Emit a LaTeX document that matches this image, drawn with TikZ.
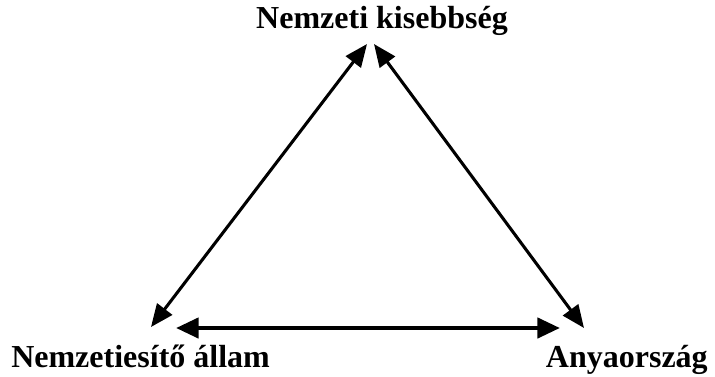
\documentclass[tikz,border=0pt]{standalone}
\usepackage{fontspec}
\setmainfont{Liberation Serif}
\definecolor{Linecol}{HTML}{000000}
\definecolor{Textcol}{HTML}{000000}
\usetikzlibrary{arrows.meta, positioning}
\tikzset{
    >={Triangle[length=17pt, width=14pt]},
    font=\bfseries\fontsize{24}{29}\selectfont
}

\begin{document}
\begin{tikzpicture}[x=0.75pt, y=-0.75pt]
    \useasboundingbox (0,0) rectangle (715,376);

    % Labels
    \node[Textcol, anchor=base] (kis) at (382, 28) {Nemzeti kisebbség};
    \node[Textcol, anchor=base west, inner sep=0pt] (allam) at (11, 367) {Nemzetiesítő állam};
    \node[Textcol, anchor=base east, inner sep=0pt] (anya) at (708, 367) {Anyaország};

    % Arrow ends
    \coordinate (kisL) at (367, 44);
    \coordinate (kisR) at (374, 44);
    \coordinate (allamT) at (151, 327);
    \coordinate (allamR) at (176, 328);
    \coordinate (anyaT) at (584, 328);
    \coordinate (anyaL) at (560, 328);

    % Arrows
    \draw[<->, Linecol, line width=2.3pt] (allamT) -- (kisL);
    \draw[<->, Linecol, line width=2.3pt] (anyaT) -- (kisR);
    \draw[{Triangle[length=17pt, width=15pt]}-{Triangle[length=17pt, width=15pt]}, Linecol, line width=3.4pt] (allamR) -- (anyaL);
\end{tikzpicture}
\end{document}
